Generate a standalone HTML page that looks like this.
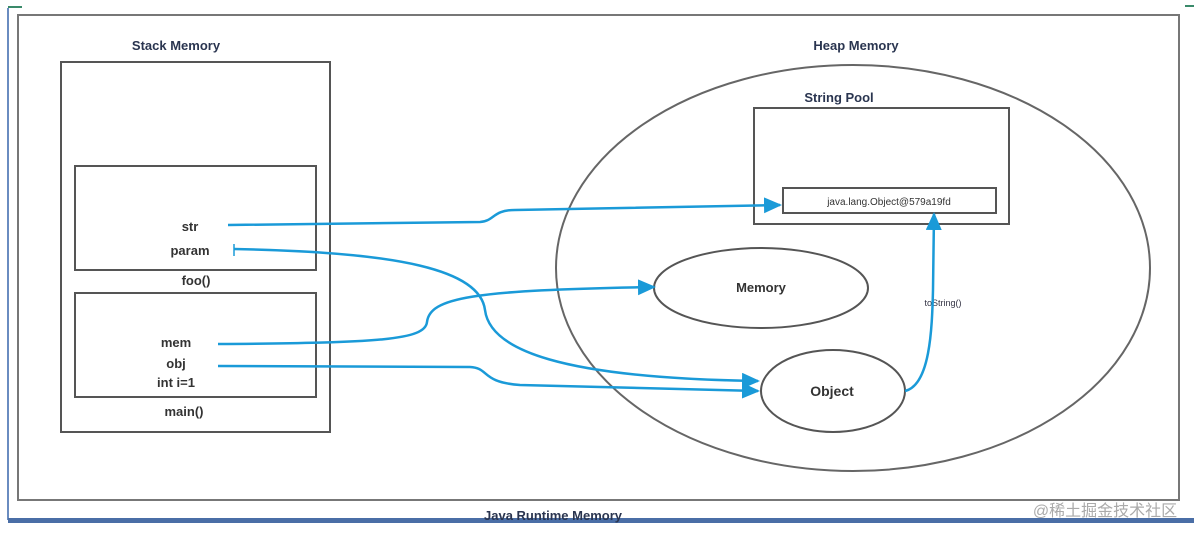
<!DOCTYPE html>
<html><head><style>
body{margin:0;background:#fff;}
svg{display:block;}
text{font-family:"Liberation Sans",sans-serif;font-weight:bold;fill:#333;}
</style></head><body>
<svg width="1194" height="538" xmlns="http://www.w3.org/2000/svg">
<defs>
<marker id="a" markerWidth="18" markerHeight="16" refX="16" refY="8" orient="auto" markerUnits="userSpaceOnUse" viewBox="0 0 18 16"><path d="M0,0 L18,8 L0,16 z" fill="#1a9ad8"/></marker>
</defs>
<rect width="1194" height="538" fill="#fff"/>
<path d="M8,8 V520" stroke="#6a8cc0" stroke-width="2" fill="none"/>
<path d="M8,7 H22" stroke="#3a8a6a" stroke-width="2"/>
<path d="M1185,6 H1194" stroke="#3a8a6a" stroke-width="2"/>
<rect x="8" y="518" width="1186" height="5" fill="#4a6ea6"/>
<rect x="18" y="15" width="1161" height="485" fill="none" stroke="#777" stroke-width="2"/>
<text x="176" y="50" font-size="13" text-anchor="middle" style="fill:#2a3550">Stack Memory</text>
<text x="856" y="50" font-size="13" text-anchor="middle" style="fill:#2a3550">Heap Memory</text>
<text x="553" y="520" font-size="13" text-anchor="middle" style="fill:#2a3550">Java Runtime Memory</text>
<text x="1105" y="516" font-size="16" text-anchor="middle" style="fill:#aaa;font-weight:normal;font-family:'Liberation Sans','Noto Sans CJK SC',sans-serif">@稀土掘金技术社区</text>
<rect x="61" y="62" width="269" height="370" fill="none" stroke="#555" stroke-width="2"/>
<rect x="75" y="166" width="241" height="104" fill="none" stroke="#555" stroke-width="2"/>
<rect x="75" y="293" width="241" height="104" fill="none" stroke="#555" stroke-width="2"/>
<text x="190" y="231" font-size="13" text-anchor="middle">str</text>
<text x="190" y="255" font-size="13" text-anchor="middle">param</text>
<text x="196" y="285" font-size="13" text-anchor="middle">foo()</text>
<text x="176" y="347" font-size="13" text-anchor="middle">mem</text>
<text x="176" y="368" font-size="13" text-anchor="middle">obj</text>
<text x="176" y="387" font-size="13" text-anchor="middle">int i=1</text>
<text x="184" y="416" font-size="13" text-anchor="middle">main()</text>
<ellipse cx="853" cy="268" rx="297" ry="203" fill="none" stroke="#666" stroke-width="2"/>
<text x="839" y="102" font-size="13" text-anchor="middle" style="fill:#2a3550">String Pool</text>
<rect x="754" y="108" width="255" height="116" fill="none" stroke="#555" stroke-width="2"/>
<rect x="783" y="188" width="213" height="25" fill="none" stroke="#555" stroke-width="2"/>
<text x="889" y="205" font-size="10" text-anchor="middle" style="font-weight:normal">java.lang.Object@579a19fd</text>
<ellipse cx="761" cy="288" rx="107" ry="40" fill="none" stroke="#555" stroke-width="2"/>
<text x="761" y="292" font-size="13" text-anchor="middle">Memory</text>
<ellipse cx="833" cy="391" rx="72" ry="41" fill="none" stroke="#555" stroke-width="2"/>
<text x="832" y="396" font-size="14" text-anchor="middle">Object</text>
<text x="943" y="306" font-size="9" text-anchor="middle" style="font-weight:normal;fill:#334">toString()</text>
<g fill="none" stroke="#1a9ad8" stroke-width="2.5">
<path d="M228,225 L480,222 C495,221 492,210 515,210 L780,205" marker-end="url(#a)"/>
<path d="M234,249 C400,252 480,270 485,310 C490,350 560,378 758,381" marker-end="url(#a)"/>
<path d="M234,244 V256" stroke-width="1.5"/>
<path d="M218,344 C380,343 425,340 427,322 C430,298 470,290 654,287" marker-end="url(#a)"/>
<path d="M218,366 L470,367 C490,368 480,382 520,385 L758,391" marker-end="url(#a)"/>
<path d="M905,391 C930,385 932,330 933,290 L934,214" marker-end="url(#a)"/>
</g>
</svg>
</body></html>
